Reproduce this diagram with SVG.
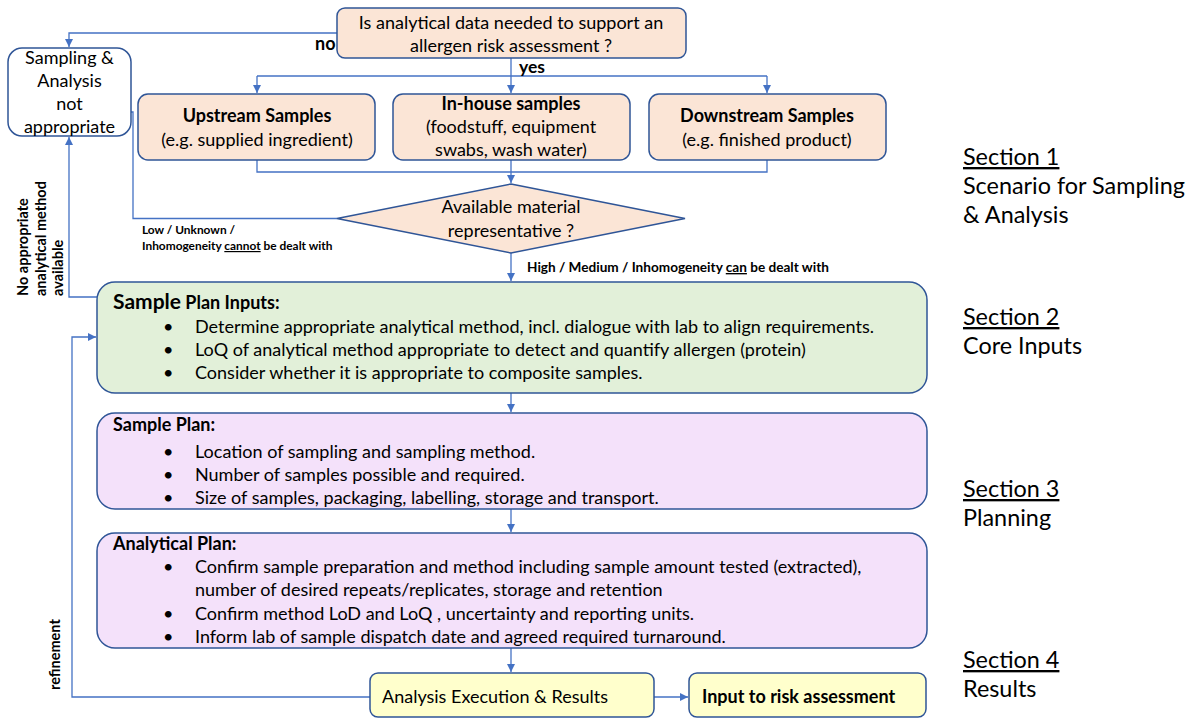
<svg xmlns="http://www.w3.org/2000/svg" width="1194" height="719" viewBox="0 0 1194 719">
  <defs>
    <marker id="arrow" viewBox="0 0 10 10" refX="10" refY="5" markerWidth="9" markerHeight="8" markerUnits="userSpaceOnUse" orient="auto">
      <path d="M0,0 L10,5 L0,10 z" fill="#4472C4"/>
    </marker>
    <style>
      .box { stroke: #2F5597; stroke-width: 1.5; }
      .peach { fill: #FBE5D6; }
      .green { fill: #E2F0D9; }
      .lilac { fill: #F4E1FA; }
      .yellow { fill: #FFFFCC; }
      .white { fill: #FFFFFF; }
      .conn { fill: none; stroke: #4472C4; stroke-width: 1.3; }
      text { font-family: Lato, "Liberation Sans", sans-serif; fill: #000; }
      .t { font-size: 18px; }
      .b { font-weight: bold; }
      .c { text-anchor: middle; }
      .lbl { font-size: 11.9px; font-weight: bold; }
      .lbl2 { font-size: 13.6px; font-weight: bold; }
      .side { font-size: 14.5px; font-weight: bold; }
      .sec { font-size: 23.4px; }
      .u { text-decoration: underline; }
    </style>
  </defs>

  <!-- connectors -->
  <g id="connectors">
    <!-- no branch -->
    <path class="conn" d="M337,33 H69 V47" marker-end="url(#arrow)"/>
    <!-- yes branch -->
    <path class="conn" d="M511,58 V93" marker-end="url(#arrow)"/>
    <path class="conn" d="M257,76 H767"/>
    <path class="conn" d="M257,76 V93" marker-end="url(#arrow)"/>
    <path class="conn" d="M767,76 V93" marker-end="url(#arrow)"/>
    <!-- collect samples into decision -->
    <path class="conn" d="M257,160 V172 H767 V160"/>
    <path class="conn" d="M511,160 V183" marker-end="url(#arrow)"/>
    <!-- not representative -->
    <path class="conn" d="M337,218.5 H133 V112 H108" marker-end="url(#arrow)"/>
    <!-- representative -->
    <path class="conn" d="M511,253 V281" marker-end="url(#arrow)"/>
    <!-- no method available -->
    <path class="conn" d="M97,297 H69 V137" marker-end="url(#arrow)"/>
    <!-- planning chain -->
    <path class="conn" d="M511,393 V412" marker-end="url(#arrow)"/>
    <path class="conn" d="M511,509 V532" marker-end="url(#arrow)"/>
    <path class="conn" d="M511,648 V672" marker-end="url(#arrow)"/>
    <path class="conn" d="M654,697 H688" marker-end="url(#arrow)"/>
    <!-- refinement loop -->
    <path class="conn" d="M370,697 H72 V337 H96" marker-end="url(#arrow)"/>

    <text class="b" x="315" y="50" font-size="18">no</text>
    <text class="b" x="519" y="73" font-size="17.5">yes</text>
    <text class="lbl" x="142" y="234">Low / Unknown /</text>
    <text class="lbl" x="142" y="250">Inhomogeneity <tspan class="u">cannot</tspan> be dealt with</text>
    <text class="lbl2" x="527" y="272">High / Medium / Inhomogeneity <tspan class="u">can</tspan> be dealt with</text>
    <text class="side" transform="translate(28,296) rotate(-90)">
      <tspan x="0" y="0">No appropriate</tspan>
      <tspan x="0" y="17.5">analytical method</tspan>
      <tspan x="0" y="35">available</tspan>
    </text>
    <text class="side" transform="translate(60,690) rotate(-90)" x="0" y="0">refinement</text>
  </g>

  <g id="question">
    <rect class="box peach" x="337" y="8" width="349" height="50" rx="8"/>
    <text class="t c" x="511" y="29">Is analytical data needed to support an</text>
    <text class="t c" x="511" y="52">allergen risk assessment ?</text>
  </g>

  <g id="not-appropriate">
    <rect class="box white" x="8" y="48" width="123" height="88" rx="14"/>
    <text class="t c" x="69.5" y="64">Sampling &amp;</text>
    <text class="t c" x="69.5" y="87">Analysis</text>
    <text class="t c" x="69.5" y="110">not</text>
    <text class="t c" x="69.5" y="133">appropriate</text>
  </g>

  <g id="upstream">
    <rect class="box peach" x="138" y="94" width="237" height="66" rx="10"/>
    <text class="t c b" x="257" y="122">Upstream Samples</text>
    <text class="t c" x="257" y="146">(e.g. supplied ingredient)</text>
  </g>

  <g id="inhouse">
    <rect class="box peach" x="393" y="94" width="237" height="66" rx="10"/>
    <text class="t c b" x="511" y="110">In-house samples</text>
    <text class="t c" x="511" y="133">(foodstuff, equipment</text>
    <text class="t c" x="511" y="156">swabs, wash water)</text>
  </g>

  <g id="downstream">
    <rect class="box peach" x="649" y="94" width="237" height="66" rx="10"/>
    <text class="t c b" x="767" y="122">Downstream Samples</text>
    <text class="t c" x="767" y="146">(e.g. finished product)</text>
  </g>

  <g id="representative">
    <polygon class="box peach" points="511,184 685,218.5 511,253 337,218.5"/>
    <text class="t c" x="511" y="213">Available material</text>
    <text class="t c" x="511" y="237">representative ?</text>
  </g>

  <g id="plan-inputs">
    <rect class="box green" x="97" y="282" width="830" height="111" rx="18"/>
    <text class="b" x="113" y="309"><tspan font-size="21">Sample</tspan><tspan font-size="18"> Plan Inputs:</tspan></text>
    <text class="t" x="163" y="333">•</text>
    <text class="t" x="195" y="333">Determine appropriate analytical method, incl. dialogue with lab to align requirements.</text>
    <text class="t" x="163" y="356">•</text>
    <text class="t" x="195" y="356">LoQ of analytical method appropriate to detect and quantify allergen (protein)</text>
    <text class="t" x="163" y="379">•</text>
    <text class="t" x="195" y="379">Consider whether it is appropriate to composite samples.</text>
  </g>

  <g id="sample-plan">
    <rect class="box lilac" x="97" y="413" width="830" height="96" rx="18"/>
    <text class="t b" x="113" y="431">Sample Plan:</text>
    <text class="t" x="163" y="458">•</text>
    <text class="t" x="195" y="458">Location of sampling and sampling method.</text>
    <text class="t" x="163" y="481">•</text>
    <text class="t" x="195" y="481">Number of samples possible and required.</text>
    <text class="t" x="163" y="504">•</text>
    <text class="t" x="195" y="504">Size of samples, packaging, labelling, storage and transport.</text>
  </g>

  <g id="analytical-plan">
    <rect class="box lilac" x="97" y="533" width="830" height="115" rx="18"/>
    <text class="t b" x="113" y="550">Analytical Plan:</text>
    <text class="t" x="163" y="573">•</text>
    <text class="t" x="195" y="573">Confirm sample preparation and method including sample amount tested (extracted),</text>
    <text class="t" x="195" y="596">number of desired repeats/replicates, storage and retention</text>
    <text class="t" x="163" y="620">•</text>
    <text class="t" x="195" y="620">Confirm method LoD and LoQ , uncertainty and reporting units.</text>
    <text class="t" x="163" y="643">•</text>
    <text class="t" x="195" y="643">Inform lab of sample dispatch date and agreed required turnaround.</text>
  </g>

  <g id="execution">
    <rect class="box yellow" x="370" y="673" width="284" height="44" rx="8"/>
    <text class="t" x="382" y="703">Analysis Execution &amp; Results</text>
  </g>

  <g id="risk-input">
    <rect class="box yellow" x="689" y="673" width="237" height="44" rx="8"/>
    <text class="t b" x="702" y="703">Input to risk assessment</text>
  </g>

  <g id="sections">
    <text class="sec" x="963" y="165"><tspan class="u">Section 1</tspan></text>
    <text class="sec" x="963" y="194">Scenario for Sampling</text>
    <text class="sec" x="963" y="223">&amp; Analysis</text>
    <text class="sec" x="963" y="325"><tspan class="u">Section 2</tspan></text>
    <text class="sec" x="963" y="354">Core Inputs</text>
    <text class="sec" x="963" y="497"><tspan class="u">Section 3</tspan></text>
    <text class="sec" x="963" y="526">Planning</text>
    <text class="sec" x="963" y="668"><tspan class="u">Section 4</tspan></text>
    <text class="sec" x="963" y="697">Results</text>
  </g>
</svg>
